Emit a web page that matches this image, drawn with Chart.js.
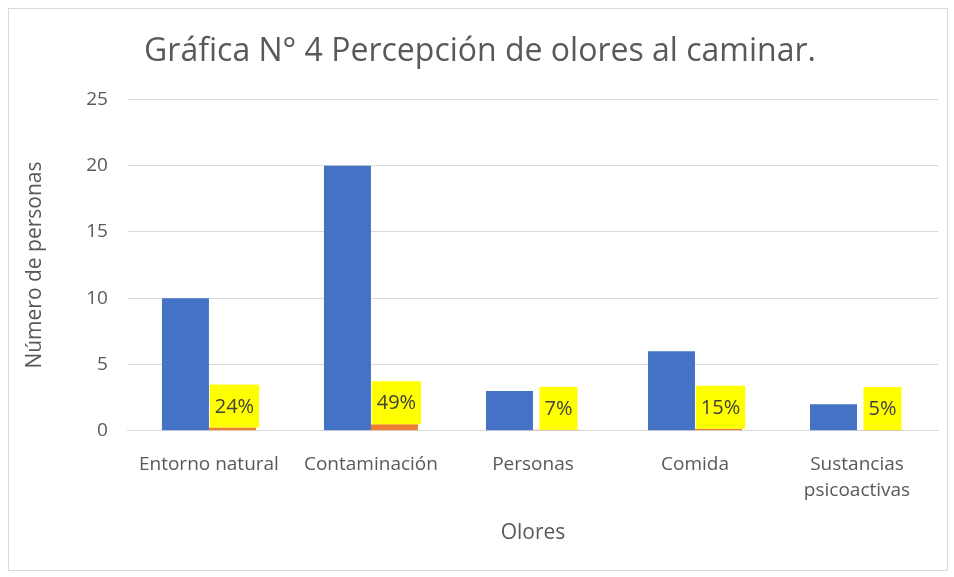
<!DOCTYPE html>
<html>
<head>
<meta charset="utf-8">
<script src="https://cdn.jsdelivr.net/npm/chart.js@4.4.0/dist/chart.umd.min.js"></script>
<style>
  html, body { margin: 0; padding: 0; background: #fff; }
  #wrap { position: absolute; left: 8px; top: 8px; width: 940px; height: 563px; border: 1px solid #d9d9d9; box-sizing: border-box; }
  canvas { position: absolute; left: 0; top: 0; }
</style>
</head>
<body>
<div id="wrap"></div>
<canvas id="chart" width="954" height="577"></canvas>
<script>
const categories = [["Entorno natural"], ["Contaminación"], ["Personas"], ["Comida"], ["Sustancias", "psicoactivas"]];
const personas = [10, 20, 3, 6, 2];
const porcentajes = [0.24, 0.49, 0.07, 0.15, 0.05];
const yTicks = [0, 5, 10, 15, 20, 25];

const FONT = "'Open Sans', sans-serif";

// yellow boxed percentage labels sitting on the red bars
const labelPlugin = {
  id: 'pctLabels',
  afterDatasetsDraw(chart) {
    const c = chart.ctx;
    const meta = chart.getDatasetMeta(1);
    c.save();
    c.font = "20px " + FONT;
    c.textAlign = 'center';
    c.textBaseline = 'middle';
    meta.data.forEach((bar, i) => {
      const txt = Math.round(porcentajes[i] * 100) + '%';
      const w = c.measureText(txt).width + 10;
      const h = 43;
      const x = bar.x + 2;
      const y = bar.y - h / 2;
      c.fillStyle = '#ffff00';
      c.fillRect(x - w / 2, y - h / 2, w, h);
      c.fillStyle = '#404040';
      c.fillText(txt, x, y + 1);
    });
    c.restore();
  }
};

new Chart(document.getElementById('chart'), {
  type: 'bar',
  data: {
    labels: categories,
    datasets: [
      { label: 'Número de personas', data: personas, backgroundColor: '#4472c4' },
      { label: 'Porcentaje', data: porcentajes, backgroundColor: '#ed7d31' }
    ]
  },
  options: {
    responsive: false,
    animation: false,
    layout: { padding: { left: 22, right: 16, top: 0, bottom: 31 } },
    datasets: { bar: { categoryPercentage: 0.58, barPercentage: 1 } },
    plugins: {
      legend: { display: false },
      tooltip: { enabled: false },
      title: {
        display: true,
        text: 'Gráfica N° 4 Percepción de olores al caminar.',
        color: '#595959',
        font: { family: FONT, size: 32, weight: 'normal', lineHeight: 1.2 },
        padding: { top: 33, bottom: 28 }
      }
    },
    scales: {
      x: {
        grid: { display: false, drawTicks: false },
        border: { color: '#d9d9d9', width: 1 },
        ticks: { color: '#595959', font: { family: FONT, size: 19, lineHeight: 1.37 }, padding: 21, maxRotation: 0 },
        title: { display: true, text: 'Olores', color: '#595959', font: { family: FONT, size: 21, lineHeight: 1.2 }, padding: { top: -4, bottom: 0 } }
      },
      y: {
        min: 0,
        max: 25,
        afterBuildTicks(axis) { axis.ticks = yTicks.map(v => ({ value: v })); },
        grid: { color: '#d9d9d9', drawTicks: false },
        border: { display: false },
        ticks: { color: '#595959', font: { family: FONT, size: 19 }, padding: 20 },
        title: { display: true, text: 'Número de personas', color: '#595959', font: { family: FONT, size: 21, lineHeight: 1.2 }, padding: { top: 0, bottom: 19 } }
      }
    }
  },
  plugins: [labelPlugin]
});
</script>
</body>
</html>
